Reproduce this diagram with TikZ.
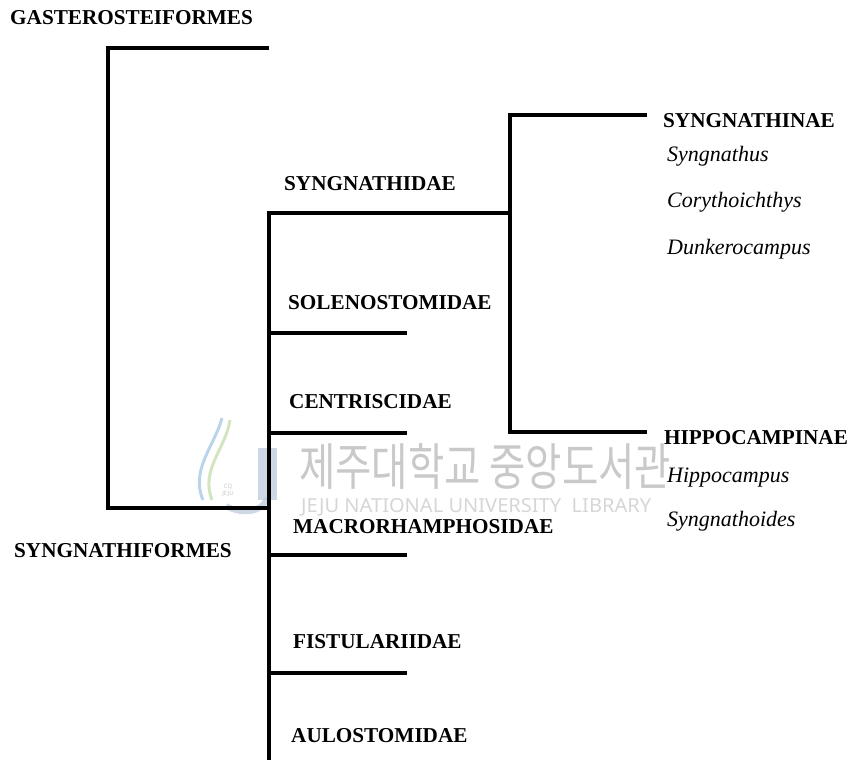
\documentclass[tikz,border=0pt]{standalone}
\usepackage{fontspec}
\usepackage{graphicx}
\setmainfont{Liberation Serif}
\newfontfamily\krfont{Noto Sans CJK KR}
\newfontfamily\wmfont{Noto Sans}
\definecolor{wmgray}{HTML}{C9C9C9}
\definecolor{wmlight}{HTML}{D6D6D6}
\definecolor{wmblue}{HTML}{A9CBE6}
\definecolor{wmgreen}{HTML}{C6E0B0}
\definecolor{wmj}{HTML}{B9C6DA}
\tikzset{
  tree/.style={line width=3.2pt, line join=miter, line cap=butt},
  taxon/.style={anchor=base west, inner sep=0pt, font=\bfseries\fontsize{21.2}{24}\selectfont},
  genus/.style={anchor=base west, inner sep=0pt, font=\itshape\fontsize{22}{26}\selectfont},
}
\begin{document}
\begin{tikzpicture}[x=1pt,y=-1pt]
\useasboundingbox (0,0) rectangle (854,760);
% watermark (faint)
\draw[wmblue, line width=3pt, opacity=0.8] (203,500) .. controls (190,470) and (215,445) .. (222,418);
\draw[wmgreen, line width=3pt, opacity=0.8] (212,500) .. controls (200,470) and (226,448) .. (230,420);
\fill[wmj, opacity=0.7] (258,448) rectangle (277,500);
\draw[wmj, line width=6pt, opacity=0.7] (267,498) .. controls (262,514) and (240,514) .. (226,506);
\node[font=\wmfont\fontsize{6}{7}\selectfont, text=wmgray, align=center] (wmlogo) at (228,490) {CQ\\JEJU};
\node[anchor=west, inner sep=0pt, text=wmgray] (wmkr) at (299,466)
  {\resizebox{372pt}{42pt}{\krfont 제주대학교 중앙도서관}};
\node[anchor=west, inner sep=0pt, text=wmlight] (wmen) at (301,507)
  {\resizebox{350pt}{14pt}{\wmfont JEJU NATIONAL UNIVERSITY\ \ LIBRARY}};

% coordinates
\coordinate (g1) at (108,48);
\coordinate (g2) at (269,48);
\coordinate (g3) at (108,508);
\coordinate (s0) at (269,508);
\coordinate (r1) at (269,213);
\coordinate (r2) at (269,760);
\coordinate (h1) at (510,213);
\coordinate (b1) at (510,115);
\coordinate (b2) at (647,115);
\coordinate (b3) at (510,432);
\coordinate (b4) at (647,432);
\coordinate (c1) at (269,333); \coordinate (e1) at (407,333);
\coordinate (c2) at (269,433); \coordinate (e2) at (407,433);
\coordinate (c3) at (269,555); \coordinate (e3) at (407,555);
\coordinate (c4) at (269,673); \coordinate (e4) at (407,673);

% tree
\draw[tree] (g2) -- (g1) -- (g3) -- (s0);
\draw[tree] (h1) -- (r1) -- (r2);
\draw[tree] (b2) -- (b1) -- (b3) -- (b4);
\draw[tree] (c1) -- (e1);
\draw[tree] (c2) -- (e2);
\draw[tree] (c3) -- (e3);
\draw[tree] (c4) -- (e4);

% labels
\node[taxon] (gast) at (10,25) {GASTEROSTEIFORMES};
\node[taxon] (synf) at (14,557) {SYNGNATHIFORMES};
\node[taxon] (syni) at (284,190) {SYNGNATHIDAE};
\node[taxon] (sole) at (288,309) {SOLENOSTOMIDAE};
\node[taxon] (cent) at (289,408) {CENTRISCIDAE};
\node[taxon] (macr) at (293,533) {MACRORHAMPHOSIDAE};
\node[taxon] (fist) at (293,648) {FISTULARIIDAE};
\node[taxon] (aulo) at (291,742) {AULOSTOMIDAE};
\node[taxon] (synn) at (663,127) {SYNGNATHINAE};
\node[taxon] (hipp) at (664,444) {HIPPOCAMPINAE};
\node[genus] (g_syn) at (667,161) {Syngnathus};
\node[genus] (g_cor) at (667,207) {Corythoichthys};
\node[genus] (g_dun) at (667,254) {Dunkerocampus};
\node[genus] (g_hip) at (667,482) {Hippocampus};
\node[genus] (g_sgo) at (667,526) {Syngnathoides};
\end{tikzpicture}
\end{document}
